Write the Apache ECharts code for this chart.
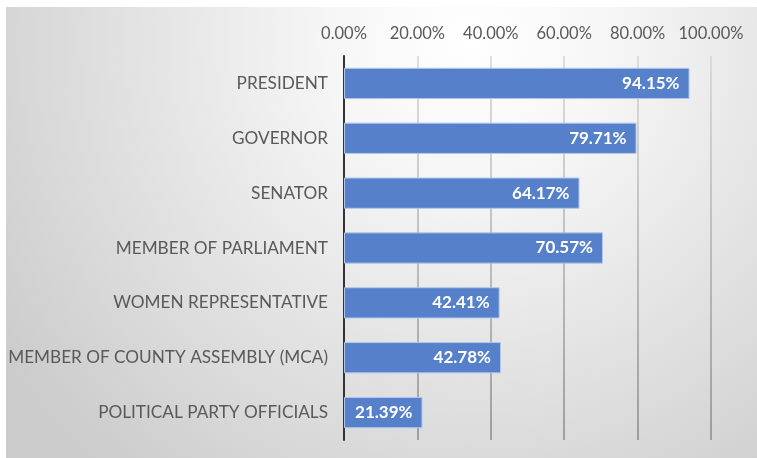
<!DOCTYPE html>
<html>
<head>
<meta charset="utf-8">
<script src="https://cdn.jsdelivr.net/npm/echarts@6/dist/echarts.min.js"></script>
<style>
  html, body { margin: 0; padding: 0; background: #ffffff; }
  #chart { width: 757px; height: 458px; }
</style>
</head>
<body>
<div id="chart"></div>
<script>
// Offices and share of respondents (%)
var offices = [
  'PRESIDENT',
  'GOVERNOR',
  'SENATOR',
  'MEMBER OF PARLIAMENT',
  'WOMEN REPRESENTATIVE',
  'MEMBER OF COUNTY ASSEMBLY (MCA)',
  'POLITICAL PARTY OFFICIALS'
];
var shares = [94.15, 79.71, 64.17, 70.57, 42.41, 42.78, 21.39];
var axisTicks = [0, 20, 40, 60, 80, 100];

var FONT = 'Lato, "Open Sans", sans-serif';
var chart = echarts.init(document.getElementById('chart'), null, { renderer: 'canvas' });

chart.setOption({
  animation: false,
  backgroundColor: '#ffffff',
  graphic: [{
    type: 'rect',
    z: -10,
    silent: true,
    shape: { x: 6, y: 7, width: 751, height: 451 },
    style: {
      fill: new echarts.graphic.RadialGradient(470, 40, 560, [
        { offset: 0, color: '#ffffff' },
        { offset: 0.25, color: '#f6f6f6' },
        { offset: 1, color: '#cccccc' }
      ], true)
    }
  }],
  grid: { left: 344, right: 46, top: 56, bottom: 18, containLabel: false },
  xAxis: {
    type: 'value',
    position: 'top',
    min: axisTicks[0],
    max: axisTicks[axisTicks.length - 1],
    interval: axisTicks[1] - axisTicks[0],
    axisLine: { show: false },
    axisTick: { show: false },
    axisLabel: {
      margin: 14,
      color: '#595959',
      fontFamily: FONT,
      fontSize: 16.5,
      formatter: function (v) { return v.toFixed(2) + '%'; }
    },
    splitLine: {
      lineStyle: {
        width: 1.5,
        color: new echarts.graphic.LinearGradient(0, 56, 0, 440, [
          { offset: 0, color: '#d4d4d4' },
          { offset: 1, color: '#8a8a8a' }
        ], true)
      }
    }
  },
  yAxis: {
    type: 'category',
    data: offices,
    inverse: true,
    axisLine: { show: true, lineStyle: { color: '#333333', width: 2 } },
    axisTick: { show: false },
    axisLabel: {
      margin: 16,
      color: '#595959',
      fontFamily: FONT,
      fontSize: 17.2
    }
  },
  series: [{
    type: 'bar',
    data: shares,
    barCategoryGap: '43%',
    itemStyle: {
      color: '#5680ca',
      borderColor: '#b3c7ea',
      borderWidth: 1
    },
    label: {
      show: true,
      position: 'insideRight',
      distance: 10,
      color: '#ffffff',
      fontFamily: FONT,
      fontWeight: 'bold',
      fontSize: 17,
      formatter: function (p) { return p.value.toFixed(2) + '%'; }
    }
  }]
});
</script>
</body>
</html>
